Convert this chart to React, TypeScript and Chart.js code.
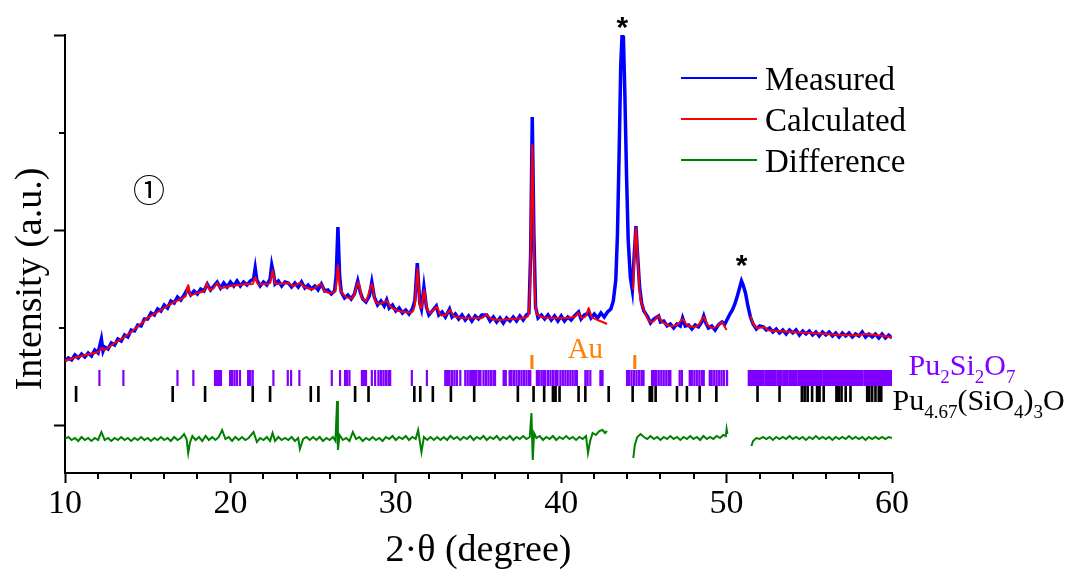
import React, { useEffect, useRef } from "react";
import { Chart, registerables } from "chart.js";
Chart.register(...registerables);

// ---------------- data ----------------
const X_MIN = 10;
const X_MAX = 60;
const X_MINOR = [12, 14, 16, 18, 22, 24, 26, 28, 32, 34, 36, 38, 42, 44, 46, 48, 52, 54, 56, 58];
const Y_MIN = -48;
const Y_MAX = 390;
const Y_MAJOR = [0, 195, 390];
const Y_MINOR = [97.5, 292.5];

const measured: [number, number][] = [
  [10.0,64],[10.2,67],[10.4,65],[10.6,70],[10.8,67],[11.0,71],[11.2,68],[11.4,72],[11.6,69],[11.8,75],[12.0,72],[12.2,86],[12.3,74],[12.4,78],[12.6,76],[12.8,82],[13.0,80],[13.2,86],[13.4,84],[13.6,90],[13.8,88],[14.0,95],[14.2,94],[14.4,100],[14.6,99],[14.8,106],[15.0,106],[15.2,112],[15.4,110],[15.6,116],[15.8,114],[16.0,120],[16.2,117],[16.4,124],[16.6,122],[16.8,128],[17.0,125],[17.2,130],[17.4,136],[17.5,133],[17.6,130],[17.8,134],[18.0,131],[18.2,136],[18.4,134],[18.6,141],[18.8,135],[19.0,139],[19.2,143],[19.4,137],[19.6,142],[19.8,138],[20.0,143],[20.2,139],[20.4,144],[20.6,139],[20.8,143],[21.0,140],[21.2,144],[21.4,146],[21.5,157],[21.6,145],[21.8,139],[22.0,143],[22.2,140],[22.4,146],[22.5,160],[22.6,152],[22.7,141],[22.9,144],[23.1,139],[23.3,143],[23.5,142],[23.7,138],[23.9,142],[24.1,138],[24.3,143],[24.5,137],[24.7,140],[24.9,136],[25.1,139],[25.3,135],[25.5,141],[25.7,134],[25.9,135],[26.1,131],[26.3,134],[26.4,150],[26.5,198],[26.6,150],[26.7,133],[26.9,127],[27.1,130],[27.3,126],[27.5,131],[27.7,144],[27.85,133],[28.0,126],[28.2,123],[28.4,129],[28.55,143],[28.7,128],[28.9,120],[29.1,124],[29.3,119],[29.45,125],[29.6,117],[29.8,120],[30.0,114],[30.2,117],[30.4,112],[30.6,115],[30.8,111],[31.0,116],[31.15,124],[31.3,162],[31.45,122],[31.55,116],[31.7,138],[31.85,118],[32.0,110],[32.2,114],[32.45,119],[32.6,110],[32.8,113],[33.0,108],[33.25,116],[33.4,108],[33.6,111],[33.8,106],[34.0,110],[34.2,105],[34.4,109],[34.6,104],[34.8,109],[35.0,106],[35.2,110],[35.5,110],[35.7,104],[35.9,108],[36.1,103],[36.3,107],[36.5,102],[36.7,107],[36.9,104],[37.1,108],[37.3,104],[37.5,109],[37.7,105],[37.9,110],[38.05,112],[38.15,170],[38.25,308],[38.35,190],[38.45,118],[38.6,107],[38.8,110],[39.0,106],[39.2,110],[39.4,105],[39.6,109],[39.8,104],[40.0,109],[40.2,104],[40.4,108],[40.6,105],[40.8,109],[41.05,113],[41.2,106],[41.4,110],[41.66,112],[41.8,107],[42.0,111],[42.2,107],[42.4,112],[42.6,108],[42.8,113],[43.0,116],[43.15,124],[43.3,145],[43.4,190],[43.5,270],[43.6,360],[43.68,390],[43.76,388],[43.85,330],[43.95,250],[44.05,185],[44.18,148],[44.3,135],[44.42,172],[44.52,199],[44.62,170],[44.74,138],[44.86,122],[45.0,114],[45.2,109],[45.4,102],[45.6,106],[45.89,109],[46.0,103],[46.2,104],[46.4,99],[46.6,101],[46.8,97],[47.0,101],[47.2,99],[47.34,107],[47.5,99],[47.7,100],[47.9,96],[48.1,100],[48.3,98],[48.5,103],[48.62,109],[48.75,102],[48.9,97],[49.1,99],[49.3,95],[49.5,100],[49.72,103],[49.9,101],[50.05,106],[50.2,111],[50.35,115],[50.5,121],[50.65,129],[50.8,138],[50.9,144],[51.0,140],[51.14,132],[51.3,118],[51.44,108],[51.6,101],[51.8,96],[52.0,99],[52.24,98],[52.4,95],[52.6,97],[52.8,93],[53.0,96],[53.2,92],[53.4,95],[53.6,91],[53.8,95],[54.0,92],[54.2,95],[54.4,90],[54.6,94],[54.8,91],[55.0,94],[55.2,90],[55.4,93],[55.6,89],[55.8,93],[56.0,90],[56.2,93],[56.4,89],[56.6,92],[56.8,88],[57.0,92],[57.2,89],[57.4,92],[57.6,88],[57.8,91],[58.0,89],[58.2,93],[58.4,88],[58.6,91],[58.8,88],[59.0,91],[59.2,87],[59.4,91],[59.6,87],[59.8,90],[60.0,87],
];

// null marks an excluded region (no fit there)
const calculated: [number, number | null][] = [
  [10.0,64],[10.5,67],[11.0,69],[11.5,71],[12.0,73],[12.2,77],[12.4,75],[13.0,82],[13.5,87],[14.0,93],[14.5,100],[15.0,107],[15.5,112],[16.0,117],[16.5,122],[17.0,126],[17.3,129],[17.45,140],[17.6,130],[18.0,132],[18.4,134],[18.57,142],[18.75,135],[19.0,137],[19.2,142],[19.4,137],[20.0,139],[20.5,140],[21.0,141],[21.35,141],[21.5,148],[21.65,141],[22.0,141],[22.4,142],[22.55,155],[22.7,142],[23.0,141],[23.5,142],[23.8,139],[24.2,142],[24.5,138],[25.0,136],[25.46,141],[25.7,134],[26.0,132],[26.35,134],[26.5,160],[26.65,135],[27.0,128],[27.4,127],[27.74,143],[27.95,127],[28.2,124],[28.55,141],[28.75,124],[29.0,121],[29.45,124],[29.7,118],[30.0,115],[30.5,113],[31.0,113],[31.15,120],[31.31,157],[31.45,120],[31.55,117],[31.72,135],[31.88,116],[32.1,112],[32.48,118],[32.7,110],[33.0,110],[33.29,115],[33.5,109],[34.0,107],[34.7,107],[35.2,107],[35.5,110],[35.8,106],[36.3,105],[37.0,106],[37.7,107],[38.0,109],[38.12,140],[38.25,280],[38.38,150],[38.5,112],[38.8,108],[39.5,107],[40.2,107],[40.8,108],[41.05,112],[41.25,107],[41.5,109],[41.66,117],[41.85,108],[42.2,105],[42.5,103],[42.77,101],
  [43.5,null],
  [44.35,135],[44.45,180],[44.52,197],[44.6,175],[44.7,145],[44.8,125],[45.0,115],[45.2,107],[45.4,103],[45.6,104],[45.89,109],[46.1,103],[46.6,99],[47.0,100],[47.34,106],[47.6,100],[48.0,98],[48.3,100],[48.62,108],[48.85,100],[49.12,97],[49.45,99],[49.72,103],[49.85,99],[50.0,95],
  [50.7,null],
  [51.45,109],[51.6,102],[51.84,97],[52.24,98],[52.5,95],[53.0,94],[54.0,93],[55.0,92],[56.0,91],[57.0,90],[58.0,90],[58.3,91],[59.0,90],[60.0,88],
];

const difference: [number, number | null][] = [
  [10.0,-14],[10.2,-12],[10.4,-15],[10.6,-13],[10.8,-16],[11.0,-12],[11.2,-15],[11.4,-13],[11.6,-16],[11.8,-13],[12.0,-15],[12.2,-7],[12.4,-15],[12.6,-13],[12.8,-16],[13.0,-13],[13.2,-15],[13.4,-12],[13.6,-15],[13.8,-13],[14.0,-16],[14.2,-13],[14.4,-15],[14.6,-12],[14.8,-15],[15.0,-13],[15.2,-16],[15.4,-13],[15.6,-15],[15.8,-12],[16.0,-15],[16.2,-13],[16.4,-16],[16.6,-12],[16.8,-15],[17.0,-13],[17.2,-9],[17.35,-14],[17.45,-28],[17.55,-18],[17.7,-11],[17.9,-15],[18.1,-12],[18.3,-16],[18.5,-11],[18.7,-15],[18.9,-12],[19.1,-15],[19.3,-12],[19.5,-5],[19.7,-14],[19.9,-12],[20.1,-16],[20.3,-12],[20.5,-15],[20.7,-12],[20.9,-15],[21.1,-13],[21.4,-7],[21.6,-17],[21.8,-13],[22.0,-15],[22.2,-12],[22.4,-16],[22.55,-8],[22.7,-16],[22.9,-12],[23.1,-15],[23.3,-13],[23.5,-15],[23.7,-12],[23.9,-16],[24.1,-13],[24.2,-24],[24.4,-14],[24.6,-12],[24.8,-15],[25.0,-12],[25.2,-15],[25.4,-12],[25.6,-16],[25.8,-13],[26.0,-15],[26.2,-12],[26.35,-16],[26.45,24],[26.5,-25],[26.6,-10],[26.8,-15],[27.0,-13],[27.2,-16],[27.4,-7],[27.6,-14],[27.8,-12],[28.0,-16],[28.2,-13],[28.4,-15],[28.6,-12],[28.8,-15],[29.0,-13],[29.2,-16],[29.4,-12],[29.6,-14],[29.8,-11],[30.0,-15],[30.2,-12],[30.4,-14],[30.6,-11],[30.8,-15],[31.0,-12],[31.2,-14],[31.35,-5],[31.55,-27],[31.7,-12],[31.9,-15],[32.1,-12],[32.3,-15],[32.5,-12],[32.7,-15],[32.9,-12],[33.1,-15],[33.3,-11],[33.5,-14],[33.7,-12],[33.9,-15],[34.1,-12],[34.3,-14],[34.5,-11],[34.7,-15],[34.9,-12],[35.1,-14],[35.3,-11],[35.5,-15],[35.7,-12],[35.9,-14],[36.1,-11],[36.3,-15],[36.5,-12],[36.7,-14],[36.9,-11],[37.1,-15],[37.3,-12],[37.5,-14],[37.7,-11],[37.9,-14],[38.1,-12],[38.2,12],[38.28,-35],[38.36,-8],[38.5,-13],[38.7,-11],[38.9,-15],[39.1,-12],[39.3,-14],[39.5,-11],[39.7,-15],[39.9,-12],[40.1,-14],[40.3,-11],[40.5,-14],[40.7,-12],[40.9,-15],[41.1,-12],[41.3,-14],[41.5,-11],[41.62,-28],[41.75,-16],[41.9,-8],[42.1,-10],[42.3,-6],[42.5,-5],[42.65,-8],[42.77,-6],
  [43.5,null],
  [44.36,-33],[44.45,-20],[44.6,-12],[44.8,-9],[45.0,-12],[45.2,-14],[45.4,-11],[45.6,-14],[45.8,-12],[46.0,-15],[46.2,-12],[46.4,-14],[46.6,-11],[46.8,-14],[47.0,-12],[47.2,-15],[47.4,-12],[47.6,-14],[47.8,-11],[48.0,-14],[48.2,-12],[48.4,-15],[48.6,-11],[48.8,-14],[49.0,-12],[49.2,-14],[49.4,-11],[49.6,-13],[49.8,-10],[49.95,-11],[50.0,-4],[50.05,-9],
  [50.7,null],
  [51.5,-21],[51.6,-16],[51.8,-13],[52.0,-14],[52.2,-12],[52.4,-14],[52.6,-12],[52.8,-15],[53.0,-12],[53.2,-14],[53.4,-12],[53.6,-14],[53.8,-11],[54.0,-14],[54.2,-12],[54.4,-14],[54.6,-12],[54.8,-15],[55.0,-12],[55.2,-14],[55.4,-11],[55.6,-14],[55.8,-12],[56.0,-14],[56.2,-12],[56.4,-15],[56.6,-12],[56.8,-14],[57.0,-12],[57.2,-14],[57.4,-11],[57.6,-14],[57.8,-12],[58.0,-14],[58.2,-12],[58.4,-15],[58.6,-12],[58.8,-14],[59.0,-12],[59.2,-14],[59.4,-12],[59.6,-14],[59.8,-12],[60.0,-13],
];

// Bragg reflection positions (2θ)
const pu2si2o7Refl = [12.08,13.53,16.8,17.76,19.07,19.2,19.32,19.43,19.98,20.1,20.25,20.4,20.58,21.07,21.2,21.35,22.6,23.47,23.67,24.17,26.13,26.63,26.93,27.05,27.2,27.95,28.08,28.2,28.55,28.75,28.95,29.1,29.25,29.4,29.55,29.66,30.97,31.88,32.99,33.12,33.25,33.4,33.55,33.7,33.9,34.2,34.35,34.5,34.62,34.72,34.85,35.0,35.12,35.3,35.45,35.6,35.75,35.9,36.0,36.52,36.65,36.88,37.0,37.15,37.3,37.45,37.6,37.75,37.9,38.05,38.13,38.53,38.65,38.8,38.94,39.04,39.2,39.35,39.5,39.65,39.78,39.95,40.1,40.25,40.4,40.55,40.7,40.85,40.95,41.46,41.6,41.76,42.37,42.5,43.98,44.1,44.25,44.4,44.55,44.7,44.85,44.98,45.49,45.62,45.75,45.9,46.05,46.2,46.35,46.5,46.6,47.16,47.3,47.77,47.9,48.05,48.2,48.35,48.5,48.62,48.98,49.1,49.25,49.4,49.55,49.7,49.85,50.03,51.34,51.45,51.58,51.71,51.82,51.95,52.07,52.2,52.34,52.45,52.58,52.71,52.83,52.95,53.09,53.2,53.33,53.47,53.58,53.7,53.84,53.96,54.07,54.2,54.34,54.45,54.58,54.71,54.83,54.96,55.08,55.21,55.33,55.45,55.58,55.7,55.84,55.95,56.08,56.21,56.33,56.46,56.58,56.7,56.83,56.95,57.08,57.21,57.33,57.46,57.58,57.71,57.83,57.95,58.08,58.2,58.34,58.45,58.58,58.71,58.83,58.96,59.08,59.2,59.33,59.46,59.58,59.7,59.83,59.95];
const apatiteRefl = [10.67,16.51,18.47,21.35,22.4,24.86,25.32,27.54,28.35,31.12,31.48,32.24,33.33,34.74,37.38,38.33,38.97,39.5,39.66,39.9,41.05,41.46,42.87,44.32,45.35,45.49,45.71,47.0,47.6,48.37,49.38,51.87,53.2,54.55,54.72,54.9,55.17,55.47,55.62,55.87,56.64,56.78,56.95,57.2,57.49,58.5,58.62,58.8,59.0,59.2,59.35];
const auRefl = [38.23, 44.45];

// ---------------- styling / layout ----------------
const SERIF = '"Liberation Serif", "Times New Roman", serif';
const BLUE = "#0000ff";
const RED = "#ff0000";
const GREEN = "#008000";
const PURPLE = "#8000ff";
const ORANGE = "#ff8000";
const ROW_AU: [number, number] = [56, 70];
const ROW_PU2: [number, number] = [39, 55];
const ROW_AP: [number, number] = [23, 39];

function tickSegments(list: number[], row: [number, number]) {
  const pts: { x: number; y: number | null }[] = [];
  for (const x of list) {
    pts.push({ x, y: row[0] }, { x, y: row[1] }, { x, y: null });
  }
  return pts;
}
const toXY = (arr: [number, number | null][]) => arr.map(([x, y]) => ({ x, y }));

type Part = [string, boolean];
const PU2_LABEL: Part[] = [["Pu", false], ["2", true], ["Si", false], ["2", true], ["O", false], ["7", true]];
const AP_LABEL: Part[] = [["Pu", false], ["4.67", true], ["(SiO", false], ["4", true], [")", false], ["3", true], ["O", false]];

function drawRich(ctx: CanvasRenderingContext2D, parts: Part[], x: number, y: number, color: string) {
  let cx = x;
  ctx.fillStyle = color;
  ctx.textAlign = "left";
  ctx.textBaseline = "alphabetic";
  for (const [t, sub] of parts) {
    ctx.font = `${sub ? 19 : 30}px ${SERIF}`;
    ctx.fillText(t, cx, y + (sub ? 8 : 0));
    cx += ctx.measureText(t).width;
  }
}

const decorPlugin = {
  id: "decor",
  afterDraw(chart: any) {
    const ctx: CanvasRenderingContext2D = chart.ctx;
    const xs = chart.scales.x;
    const ys = chart.scales.y;
    const area = chart.chartArea;
    ctx.save();
    // minor ticks
    ctx.strokeStyle = "#000";
    ctx.lineWidth = 2;
    ctx.beginPath();
    for (const v of X_MINOR) {
      const px = Math.round(xs.getPixelForValue(v));
      ctx.moveTo(px, area.bottom);
      ctx.lineTo(px, area.bottom + 6);
    }
    for (const v of Y_MINOR) {
      const py = Math.round(ys.getPixelForValue(v));
      ctx.moveTo(area.left - 6, py);
      ctx.lineTo(area.left, py);
    }
    ctx.stroke();

    // y-axis title
    ctx.save();
    ctx.translate(41, 279);
    ctx.rotate(-Math.PI / 2);
    ctx.font = `38px ${SERIF}`;
    ctx.fillStyle = "#000";
    ctx.textAlign = "center";
    ctx.textBaseline = "alphabetic";
    ctx.fillText("Intensity (a.u.)", 0, 0);
    ctx.restore();

    // legend
    const items = chart.data.datasets.filter((d: any) => d.inLegend);
    const lx0 = 681, lx1 = 757, ly0 = 78, dy = 41;
    items.forEach((d: any, i: number) => {
      const y = ly0 + i * dy;
      ctx.strokeStyle = d.borderColor;
      ctx.lineWidth = 2;
      ctx.beginPath();
      ctx.moveTo(lx0, y);
      ctx.lineTo(lx1, y);
      ctx.stroke();
      ctx.fillStyle = "#000";
      ctx.font = `33px ${SERIF}`;
      ctx.textAlign = "left";
      ctx.textBaseline = "alphabetic";
      ctx.fillText(d.label, 765, y + 11.5);
    });

    // annotations
    ctx.fillStyle = "#000";
    ctx.textAlign = "center";
    ctx.textBaseline = "middle";
    ctx.font = `32px "Noto Sans CJK JP", "DejaVu Sans", sans-serif`;
    ctx.fillText("①", xs.getPixelForValue(15.08), ys.getPixelForValue(235));

    ctx.font = `bold 30px "Liberation Sans", Arial, sans-serif`;
    ctx.textBaseline = "alphabetic";
    ctx.fillText("*", xs.getPixelForValue(43.7), ys.getPixelForValue(405) + 17);
    ctx.fillText("*", xs.getPixelForValue(50.9), ys.getPixelForValue(167) + 17);

    ctx.fillStyle = ORANGE;
    ctx.font = `29px ${SERIF}`;
    ctx.textBaseline = "alphabetic";
    ctx.fillText("Au", xs.getPixelForValue(41.46), ys.getPixelForValue(67));

    drawRich(ctx, PU2_LABEL, xs.getPixelForValue(61.0), ys.getPixelForValue(50), PURPLE);
    drawRich(ctx, AP_LABEL, xs.getPixelForValue(60.03), ys.getPixelForValue(15), "#000");
    ctx.restore();
  },
};

export default function App() {
  const ref = useRef<HTMLCanvasElement | null>(null);
  useEffect(() => {
    if (!ref.current) return;
    const chart = new Chart(ref.current, {
      type: "line",
      data: {
        datasets: [
          { label: "Measured", inLegend: true, data: measured.map(([x, y]) => ({ x, y })), borderColor: BLUE, borderWidth: 3.5, pointRadius: 0, tension: 0, order: 2 } as any,
          { label: "Calculated", inLegend: true, data: toXY(calculated), borderColor: RED, borderWidth: 2, pointRadius: 0, tension: 0.2, order: 1 } as any,
          { label: "Difference", inLegend: true, data: toXY(difference), borderColor: GREEN, borderWidth: 2, pointRadius: 0, tension: 0, order: 3 } as any,
          { label: "Au", data: tickSegments(auRefl, ROW_AU), borderColor: ORANGE, borderWidth: 3, borderCapStyle: "butt", pointRadius: 0, order: 4 } as any,
          { label: "Pu2Si2O7", data: tickSegments(pu2si2o7Refl, ROW_PU2), borderColor: PURPLE, borderWidth: 2.2, borderCapStyle: "butt", pointRadius: 0, order: 4 } as any,
          { label: "Pu4.67(SiO4)3O", data: tickSegments(apatiteRefl, ROW_AP), borderColor: "#000", borderWidth: 2.6, borderCapStyle: "butt", pointRadius: 0, order: 4 } as any,
        ],
      },
      options: {
        animation: false,
        responsive: false,
        devicePixelRatio: 1,
        spanGaps: false,
        layout: { padding: { top: 35, right: 176, bottom: 0, left: 0 } },
        plugins: { legend: { display: false }, tooltip: { enabled: false } },
        scales: {
          x: {
            type: "linear",
            min: X_MIN,
            max: X_MAX,
            offset: false,
            ticks: { stepSize: 10, color: "#000", font: { family: SERIF, size: 34 }, padding: 1, maxRotation: 0, autoSkip: false },
            grid: { display: true, drawOnChartArea: false, drawTicks: true, tickLength: 10, tickWidth: 2, tickColor: "#000" },
            border: { display: true, color: "#000", width: 2 },
            title: { display: true, text: "2·θ (degree)", color: "#000", font: { family: SERIF, size: 38, lineHeight: 1.2 }, padding: 0 },
            afterFit: (s: any) => { s.height = 101; },
          },
          y: {
            type: "linear",
            min: Y_MIN,
            max: Y_MAX,
            afterBuildTicks: (s: any) => { s.ticks = Y_MAJOR.map((v) => ({ value: v })); },
            ticks: { callback: () => "" },
            grid: { display: true, drawOnChartArea: false, drawTicks: true, tickLength: 11, tickWidth: 2, tickColor: "#000" },
            border: { display: true, color: "#000", width: 2 },
            afterFit: (s: any) => { s.width = 65; },
          },
        },
      } as any,
      plugins: [decorPlugin],
    });
    return () => chart.destroy();
  }, []);
  return (
    <div style={{ position: "absolute", left: 0, top: 0, width: 1068, height: 574, background: "#fff" }}>
      <canvas ref={ref} width={1068} height={574} style={{ width: 1068, height: 574, display: "block" }} />
    </div>
  );
}
